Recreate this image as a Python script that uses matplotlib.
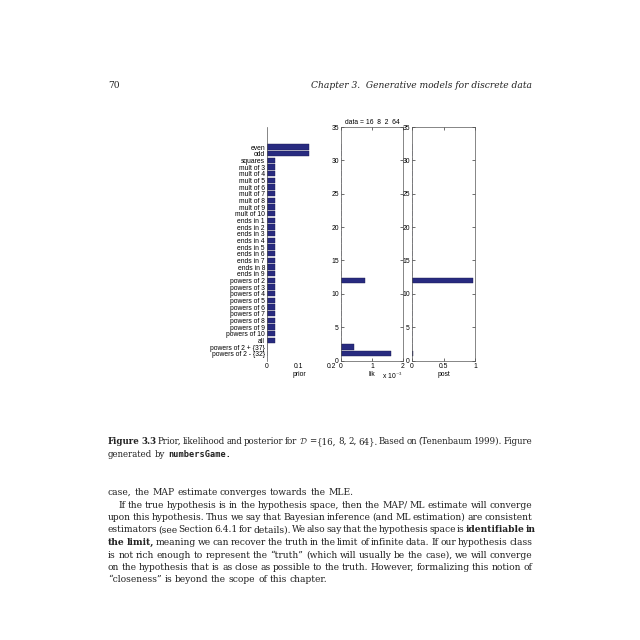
import numpy as np
import matplotlib.pyplot as plt

plt.rcParams['mathtext.fontset'] = 'cm'

# hypotheses, top row first
names = ['even', 'odd', 'squares',
         'mult of 3', 'mult of 4', 'mult of 5', 'mult of 6', 'mult of 7',
         'mult of 8', 'mult of 9', 'mult of 10',
         'ends in 1', 'ends in 2', 'ends in 3', 'ends in 4', 'ends in 5',
         'ends in 6', 'ends in 7', 'ends in 8', 'ends in 9',
         'powers of 2', 'powers of 3', 'powers of 4', 'powers of 5', 'powers of 6',
         'powers of 7', 'powers of 8', 'powers of 9', 'powers of 10',
         'all', 'powers of 2 + {37}', 'powers of 2 - {32}']

prior = [0.131, 0.131] + [0.026] * 28 + [0.0003, 0.0003]

lik = [0.0] * 32
lik[20] = 0.00077   # powers of 2
lik[30] = 0.00042   # powers of 2 + {37}
lik[31] = 0.0016    # powers of 2 - {32}

post = [0.0] * 32
post[20] = 0.975
post[30] = 0.005
post[31] = 0.02

data = [16, 8, 2, 64]

barcol = '#282b80'
sans = 'Liberation Sans'
fs = 4.9

fig = plt.figure(figsize=(6.4, 6.4), dpi=100)


def box(x0, y0, x1, y1):
    # pixel box on the 640x640 page -> figure fraction
    return [x0 / 640, 1 - y1 / 640, (x1 - x0) / 640, (y1 - y0) / 640]


ypos = np.arange(len(names), 0, -1)

# prior
ax1 = fig.add_axes(box(267, 127, 331, 360.5))
ax1.barh(ypos, prior, height=0.8, color=barcol, edgecolor='#1a1a50', linewidth=0.3)
ax1.set_ylim(0, 35)
ax1.set_xlim(0, 0.2)
for s in ['top', 'right', 'bottom']:
    ax1.spines[s].set_visible(False)
ax1.spines['left'].set_linewidth(0.5)
ax1.spines['left'].set_color('#555555')
ax1.set_yticks(ypos)
ax1.set_yticklabels(names, fontsize=fs, family=sans)
ax1.set_xticks([0, 0.1, 0.2])
ax1.set_xticklabels(['0', '0.1', '0.2'], fontsize=fs, family=sans)
ax1.tick_params(axis='both', length=0, pad=1.5)
ax1.set_xlabel('prior', fontsize=fs, family=sans, labelpad=1)


def side_axes(ax):
    ax.set_ylim(0, 35)
    ax.set_yticks(np.arange(0, 36, 5))
    ax.tick_params(direction='in', length=2, width=0.4, labelsize=fs, pad=1.5,
                   top=True, right=True)
    for lab in ax.get_xticklabels() + ax.get_yticklabels():
        lab.set_family(sans)
    for s in ax.spines.values():
        s.set_linewidth(0.5)
        s.set_color('#555555')


# likelihood
ax2 = fig.add_axes(box(341, 127, 403, 360.5))
ax2.barh(ypos, lik, height=0.8, color=barcol, edgecolor='#1a1a50', linewidth=0.3)
ax2.set_xlim(0, 0.002)
ax2.set_xticks([0, 0.001, 0.002])
ax2.set_xticklabels(['0', '1', '2'])
side_axes(ax2)
ax2.set_xlabel('lik', fontsize=fs, family=sans, labelpad=1)
ax2.set_title('data = ' + '  '.join(str(d) for d in data), fontsize=fs, family=sans, pad=2)
ax2.text(1.0, -0.065, r'x 10$^{-3}$', transform=ax2.transAxes, fontsize=fs,
         family=sans, ha='right', va='center')

# posterior
ax3 = fig.add_axes(box(412, 127, 475, 360.5))
ax3.barh(ypos, post, height=0.8, color=barcol, edgecolor='#1a1a50', linewidth=0.3)
ax3.set_xlim(0, 1)
ax3.set_xticks([0, 0.5, 1])
ax3.set_xticklabels(['0', '0.5', '1'])
side_axes(ax3)
ax3.set_xlabel('post', fontsize=fs, family=sans, labelpad=1)

# ---- page text around the figure ----
serif = 'DejaVu Serif'
L, R = 108, 532
rend = fig.canvas.get_renderer()


def put_line(tokens, yc, x0=L, x1=R, size=6.6, justify=True):
    objs = []
    widths = []
    for word, kw in tokens:
        kw2 = dict(family=serif, fontsize=size, color='#222222')
        kw2.update(kw)
        t = fig.text(0, 1 - (yc + 3) / 640, word, va='baseline', ha='left', **kw2)
        objs.append(t)
        widths.append(t.get_window_extent(rend).width)
    space = size * 0.3 * 100 / 72
    if justify and len(objs) > 1:
        gap = max((x1 - x0 - sum(widths)) / (len(objs) - 1), 1.0)
    else:
        gap = space
    x = x0
    for t, w in zip(objs, widths):
        t.set_x(x / 640)
        x += w + gap


def words(s, **kw):
    return [(w, kw) for w in s.split()]


# header
fig.text(L / 640, 1 - 88 / 640, '70', family=serif, fontsize=6.6, va='baseline',
         color='#222222')
fig.text(R / 640, 1 - 88 / 640, 'Chapter 3.  Generative models for discrete data',
         family=serif, style='italic', fontsize=6.6, va='baseline', ha='right',
         color='#222222')

# caption
cap = 6.2
put_line(words('Figure 3.3', weight='bold')
         + words('Prior, likelihood and posterior for')
         + [(r'$\mathcal{D}$', {})]
         + words('= {16, 8, 2, 64}. Based on (Tenenbaum 1999). Figure'), 441, size=cap)
put_line(words('generated by') + [('numbersGame.', dict(family='DejaVu Sans Mono', weight='bold'))],
         454, size=cap, justify=False)

# body
body = [
    (words('case, the MAP estimate converges towards the MLE.'), L, False),
    (words('If the true hypothesis is in the hypothesis space, then the MAP/ ML estimate will converge'), L + 10, True),
    (words('upon this hypothesis. Thus we say that Bayesian inference (and ML estimation) are consistent'), L, True),
    (words('estimators (see Section 6.4.1 for details). We also say that the hypothesis space is')
     + words('identifiable in', weight='bold'), L, True),
    (words('the limit,', weight='bold')
     + words('meaning we can recover the truth in the limit of infinite data. If our hypothesis class'), L, True),
    (words('is not rich enough to represent the \u201ctruth\u201d (which will usually be the case), we will converge'), L, True),
    (words('on the hypothesis that is as close as possible to the truth. However, formalizing this notion of'), L, True),
    (words('\u201ccloseness\u201d is beyond the scope of this chapter.'), L, False),
]
for i, (toks, x0, just) in enumerate(body):
    put_line(toks, 492 + 12.5 * i, x0=x0, justify=just)

fig.savefig('out.png', dpi=100)
